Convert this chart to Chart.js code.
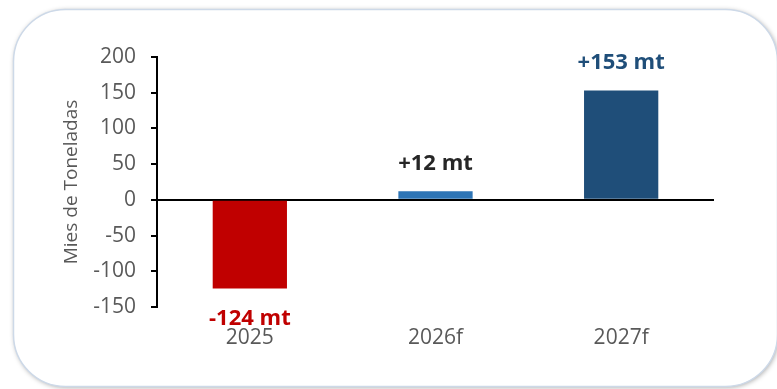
<!DOCTYPE html>
<html>
<head>
<meta charset="utf-8">
<script src="https://cdn.jsdelivr.net/npm/chart.js@4/dist/chart.umd.min.js"></script>
<style>
  html, body { margin: 0; padding: 0; background: #ffffff; }
  #wrap { width: 777px; height: 389px; }
</style>
</head>
<body>
<div id="wrap"><canvas id="chart" width="777" height="389"></canvas></div>
<script>
// categorías y variación anual (miles de toneladas)
var years = ['2025', '2026f', '2027f'];
var changes = [-124, 12, 153];
var yTicks = { min: -150, max: 200, step: 50 };
var unit = ' mt';

var barColors = ['#c00000', '#2e75b6', '#1f4e79'];
var labelColors = ['#c00000', '#262626', '#1f4e79'];
var FONT = '"Open Sans", Lato, sans-serif';

function roundRect(ctx, x, y, w, h, r) {
    ctx.beginPath();
    ctx.moveTo(x + r, y);
    ctx.lineTo(x + w - r, y);
    ctx.arcTo(x + w, y, x + w, y + r, r);
    ctx.lineTo(x + w, y + h - r);
    ctx.arcTo(x + w, y + h, x + w - r, y + h, r);
    ctx.lineTo(x + r, y + h);
    ctx.arcTo(x, y + h, x, y + h - r, r);
    ctx.lineTo(x, y + r);
    ctx.arcTo(x, y, x + r, y, r);
    ctx.closePath();
}

// tarjeta redondeada con sombra detrás del gráfico
var cardPlugin = {
    id: 'card',
    beforeDraw: function (chart) {
        var ctx = chart.ctx;
        ctx.save();
        ctx.fillStyle = '#ffffff';
        ctx.fillRect(0, 0, chart.width, chart.height);
        ctx.shadowColor = 'rgba(0,0,0,0.35)';
        ctx.shadowBlur = 5;
        ctx.shadowOffsetX = 1;
        ctx.shadowOffsetY = 1;
        roundRect(ctx, 13.5, 9.5, 764, 377, 52);
        ctx.fill();
        ctx.shadowColor = 'transparent';
        ctx.lineWidth = 1.5;
        ctx.strokeStyle = '#cdd9e8';
        ctx.stroke();
        ctx.restore();
    }
};

// etiquetas de valor encima / debajo de cada barra
var valueLabels = {
    id: 'valueLabels',
    afterDatasetsDraw: function (chart) {
        var ctx = chart.ctx;
        var meta = chart.getDatasetMeta(0);
        ctx.save();
        ctx.font = 'bold 22px ' + FONT;
        ctx.textAlign = 'center';
        ctx.textBaseline = 'middle';
        meta.data.forEach(function (bar, i) {
            var v = changes[i];
            var txt = (v > 0 ? '+' : '') + v + unit;
            ctx.fillStyle = labelColors[i];
            var y = v >= 0 ? bar.y - 28 : bar.y + 30;
            ctx.fillText(txt, bar.x, y);
        });
        ctx.restore();
    }
};

new Chart(document.getElementById('chart'), {
    type: 'bar',
    data: {
        labels: years,
        datasets: [{
            data: changes,
            backgroundColor: barColors,
            barPercentage: 0.4,
            categoryPercentage: 1
        }]
    },
    options: {
        responsive: false,
        animation: false,
        events: [],
        layout: { padding: { top: 57, right: 63, left: 0, bottom: 0 } },
        plugins: {
            legend: { display: false },
            tooltip: { enabled: false }
        },
        scales: {
            x: {
                grid: { display: false, drawTicks: false },
                border: { display: false },
                ticks: {
                    color: '#595959',
                    font: { family: FONT, size: 21 },
                    padding: 18
                },
                afterFit: function (s) { s.height = 82; }
            },
            y: {
                min: yTicks.min,
                max: yTicks.max,
                ticks: {
                    stepSize: yTicks.step,
                    color: '#595959',
                    font: { family: FONT, size: 21 },
                    padding: 15
                },
                grid: {
                    tickLength: 6,
                    tickColor: '#000000',
                    tickWidth: 2,
                    color: function (c) { return c.tick && c.tick.value === 0 ? '#000000' : 'rgba(0,0,0,0)'; },
                    lineWidth: 2
                },
                border: { display: true, color: '#000000', width: 2 },
                title: {
                    display: true,
                    text: 'Mies de Toneladas',
                    color: '#595959',
                    font: { family: FONT, size: 19 },
                    padding: { top: 60, bottom: 0 }
                },
                afterFit: function (s) { s.width = 157; }
            }
        }
    },
    plugins: [cardPlugin, valueLabels]
});
</script>
</body>
</html>
